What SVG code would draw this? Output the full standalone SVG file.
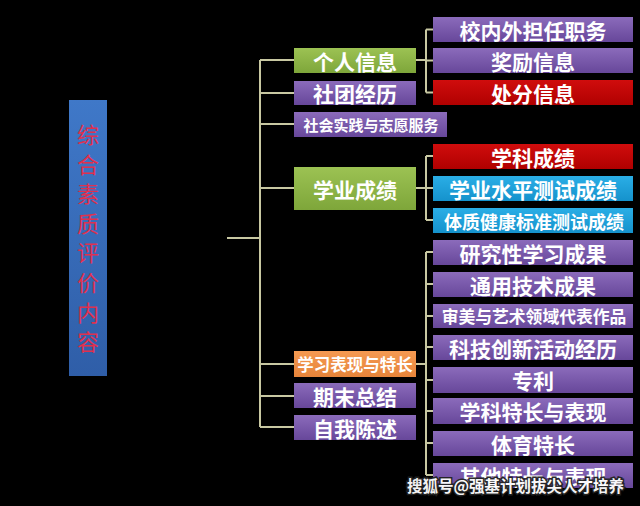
<svg xmlns="http://www.w3.org/2000/svg" width="640" height="506" viewBox="0 0 640 506">
<defs>
<linearGradient id="gP" x1="0" y1="0" x2="0" y2="1"><stop offset="0" stop-color="#8b6bbb"/><stop offset="1" stop-color="#67479a"/></linearGradient>
<linearGradient id="gG" x1="0" y1="0" x2="0" y2="1"><stop offset="0" stop-color="#9cc253"/><stop offset="1" stop-color="#7ea63a"/></linearGradient>
<linearGradient id="gR" x1="0" y1="0" x2="0" y2="1"><stop offset="0" stop-color="#d00d0d"/><stop offset="1" stop-color="#b00000"/></linearGradient>
<linearGradient id="gB" x1="0" y1="0" x2="0" y2="1"><stop offset="0" stop-color="#2aaee6"/><stop offset="1" stop-color="#1592cc"/></linearGradient>
<linearGradient id="gO" x1="0" y1="0" x2="0" y2="1"><stop offset="0" stop-color="#f59a52"/><stop offset="1" stop-color="#e6843a"/></linearGradient>
<linearGradient id="gL" x1="0" y1="0" x2="0" y2="1"><stop offset="0" stop-color="#3f78c8"/><stop offset="1" stop-color="#2f5ea8"/></linearGradient>
</defs>
<style>
.t{font-family:"Noto Sans CJK SC","Noto Sans",sans-serif;font-weight:700;fill:#fff;text-anchor:middle;dominant-baseline:central}
.c{fill:none;stroke:#c8c8a2;stroke-width:2}
.p{fill:url(#gP)}
.g{fill:url(#gG)}
.r{fill:url(#gR)}
.b{fill:url(#gB)}
.o{fill:url(#gO)}
</style>
<rect width="640" height="506" fill="#000"/>
<g id="root">
<rect x="69" y="100" width="38" height="276" fill="url(#gL)"/>
<text font-family="Noto Sans CJK SC,sans-serif" font-size="22" fill="#e0304e" text-anchor="middle">
<tspan x="88" y="143">综</tspan><tspan x="88" y="172.6">合</tspan><tspan x="88" y="202.2">素</tspan><tspan x="88" y="231.8">质</tspan><tspan x="88" y="261.4">评</tspan><tspan x="88" y="291">价</tspan><tspan x="88" y="320.6">内</tspan><tspan x="88" y="350.2">容</tspan>
</text>
</g>
<g id="connectors">
<path class="c" d="M227 238H260M260 60V427M260 60H294M260 93H294M260 124H294M260 188H294M260 364H294M260 396H294M260 427H294"/>
<path class="c" d="M416 60H426M426 29.5V92.5M426 29.5H433M426 60.5H433M426 92.5H433"/>
<path class="c" d="M416 188H426M426 156H433M426 156V220M426 188H433M426 220H433"/>
<path class="c" d="M416 364H426M426 252V475M426 252H433M426 284H433M426 316H433M426 347H433M426 380H433M426 411H433M426 443H433M426 475H433"/>
</g>
<g id="n_geren"><rect class="g" x="294" y="48" width="122" height="25"/><text class="t" x="355" y="60.5" font-size="21">个人信息</text></g>
<g id="n_shetuan"><rect class="p" x="294" y="81" width="122" height="24"/><text class="t" x="355" y="93" font-size="21">社团经历</text></g>
<g id="n_shehui"><rect class="p" x="294" y="112" width="153" height="25"/><text class="t" x="371" y="124.5" font-size="15">社会实践与志愿服务</text></g>
<g id="n_xueye"><rect class="g" x="294" y="167" width="122" height="43"/><text class="t" x="355" y="188.5" font-size="21">学业成绩</text></g>
<g id="n_xuexi"><rect class="o" x="294" y="351" width="122" height="26"/><text class="t" x="355" y="364" font-size="16.5">学习表现与特长</text></g>
<g id="n_qimo"><rect class="p" x="294" y="383" width="122" height="25"/><text class="t" x="355" y="395.5" font-size="21">期末总结</text></g>
<g id="n_ziwo"><rect class="p" x="294" y="415" width="122" height="25"/><text class="t" x="355" y="427.5" font-size="21">自我陈述</text></g>
<g id="r1"><rect class="p" x="433" y="17" width="200" height="25"/><text class="t" x="533" y="29.5" font-size="21">校内外担任职务</text></g>
<g id="r2"><rect class="p" x="433" y="48" width="200" height="25"/><text class="t" x="533" y="60.5" font-size="21">奖励信息</text></g>
<g id="r3"><rect class="r" x="433" y="80" width="200" height="25"/><text class="t" x="533" y="92.5" font-size="21">处分信息</text></g>
<g id="r4"><rect class="r" x="433" y="144" width="200" height="25"/><text class="t" x="533" y="156.5" font-size="21">学科成绩</text></g>
<g id="r5"><rect class="b" x="433" y="176" width="200" height="25"/><text class="t" x="533" y="188.5" font-size="21">学业水平测试成绩</text></g>
<g id="r6"><rect class="b" x="433" y="208" width="200" height="25"/><text class="t" x="534" y="220.5" font-size="18">体质健康标准测试成绩</text></g>
<g id="r7"><rect class="p" x="433" y="240" width="200" height="25"/><text class="t" x="533" y="252.5" font-size="21">研究性学习成果</text></g>
<g id="r8"><rect class="p" x="433" y="272" width="200" height="25"/><text class="t" x="533" y="284.5" font-size="21">通用技术成果</text></g>
<g id="r9"><rect class="p" x="433" y="304" width="200" height="24"/><text class="t" x="534" y="316" font-size="16.8">审美与艺术领域代表作品</text></g>
<g id="r10"><rect class="p" x="433" y="335" width="200" height="25"/><text class="t" x="533" y="347.5" font-size="21">科技创新活动经历</text></g>
<g id="r11"><rect class="p" x="433" y="367" width="200" height="26"/><text class="t" x="533" y="380" font-size="21">专利</text></g>
<g id="r12"><rect class="p" x="433" y="398" width="200" height="26"/><text class="t" x="533" y="411" font-size="21">学科特长与表现</text></g>
<g id="r13"><rect class="p" x="433" y="431" width="200" height="25"/><text class="t" x="533" y="443.5" font-size="21">体育特长</text></g>
<g id="r14"><rect class="p" x="433" y="463" width="200" height="25"/><text class="t" x="533" y="475.5" font-size="21">其他特长与表现</text></g>
<text x="515.5" y="485" font-family="Noto Sans CJK SC,sans-serif" font-size="15.5" font-weight="700" fill="#fff" stroke="#222" stroke-width="3" paint-order="stroke" text-anchor="middle" dominant-baseline="central" opacity="0.95">搜狐号@强基计划拔尖人才培养</text>
</svg>
